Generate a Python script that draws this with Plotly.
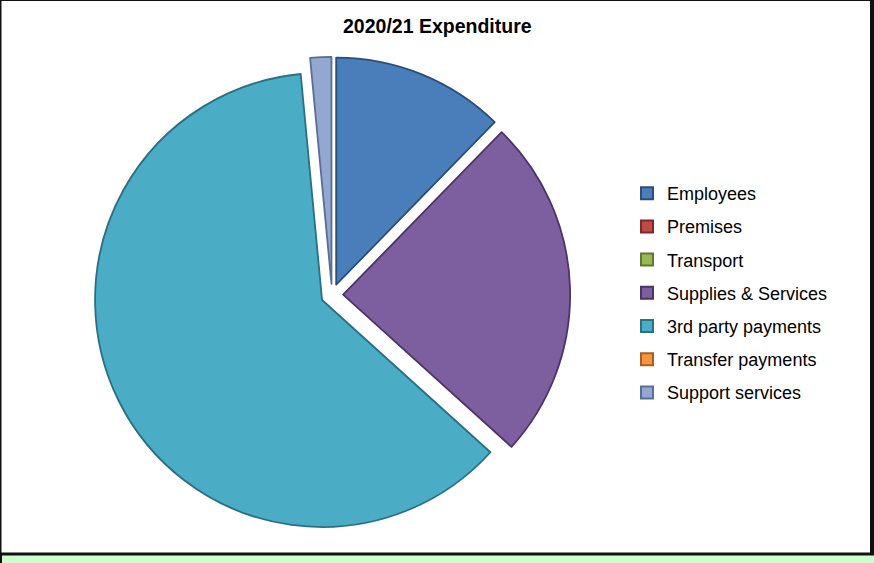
import plotly.graph_objects as go

# 2020/21 expenditure split by category (percent of total)
categories = ["Employees", "Premises", "Transport", "Supplies & Services",
              "3rd party payments", "Transfer payments", "Support services"]
shares = [12.3, 0.0, 0.0, 24.4, 61.8, 0.0, 1.5]

fill_colors = ["#4A7EBB", "#BE4B48", "#98B954", "#7D5FA0", "#4AACC5", "#F59541", "#93A8D0"]
edge_colors = ["#2A4D7A", "#7A2A28", "#5E7A2E", "#4B3566", "#2A6F82", "#A8601F", "#5A6E94"]

title_text = "2020/21 Expenditure"

W, H = 874, 563


def fx(px):
    return px / W


def fy(py):
    return 1 - py / H


# pie geometry (pixels): centre and outer extent including the pull-out
cx, cy = 332, 295
pull = 0.049
radius = 227
half = radius * (1 + pull)

# empty categories get no outline so they do not show as hairlines
edge_widths = [1.8 if v > 0 else 0 for v in shares]

fig = go.Figure()

fig.add_trace(go.Pie(
    labels=categories,
    values=shares,
    sort=False,
    direction="clockwise",
    rotation=0,
    pull=[pull] * len(shares),
    marker=dict(colors=fill_colors, line=dict(color=edge_colors, width=edge_widths)),
    textinfo="none",
    hoverinfo="label+percent",
    showlegend=False,
    domain=dict(x=[fx(cx - half), fx(cx + half)], y=[fy(cy + half), fy(cy - half)]),
))

# legend entries, one group per category so the rows can be spaced out
for name, fc, ec in zip(categories, fill_colors, edge_colors):
    fig.add_trace(go.Scatter(
        x=[None], y=[None], mode="markers", name=name, legendgroup=name,
        marker=dict(symbol="square", size=9, color=fc, line=dict(color=ec, width=1)),
        hoverinfo="skip",
    ))

shapes = [
    # white chart area inside the dark frame
    dict(type="rect", xref="paper", yref="paper", layer="below",
         x0=fx(1.5), x1=fx(870), y0=fy(552.5), y1=fy(1),
         fillcolor="white", line=dict(width=0)),
    # light green strip below the chart
    dict(type="rect", xref="paper", yref="paper", layer="below",
         x0=fx(2), x1=fx(874), y0=fy(563), y1=fy(555.5),
         fillcolor="#CCFFCC", line=dict(width=0)),
]

fig.update_layout(
    width=W, height=H,
    margin=dict(l=0, r=0, t=0, b=0),
    paper_bgcolor="#111111",
    plot_bgcolor="rgba(0,0,0,0)",
    xaxis=dict(visible=False),
    yaxis=dict(visible=False),
    font=dict(family="Liberation Sans, Arial, sans-serif", color="black"),
    shapes=shapes,
    annotations=[dict(
        text="<b>" + title_text + "</b>", xref="paper", yref="paper",
        x=fx(437), y=fy(26), xanchor="center", yanchor="middle",
        showarrow=False, font=dict(size=19.5, color="black"),
    )],
    legend=dict(
        x=fx(627), y=fy(175), xanchor="left", yanchor="top",
        font=dict(size=18, color="black"),
        bgcolor="rgba(0,0,0,0)", borderwidth=0,
        traceorder="grouped", tracegroupgap=6.8,
        itemsizing="constant",
    ),
)

fig.write_html("out.html")
